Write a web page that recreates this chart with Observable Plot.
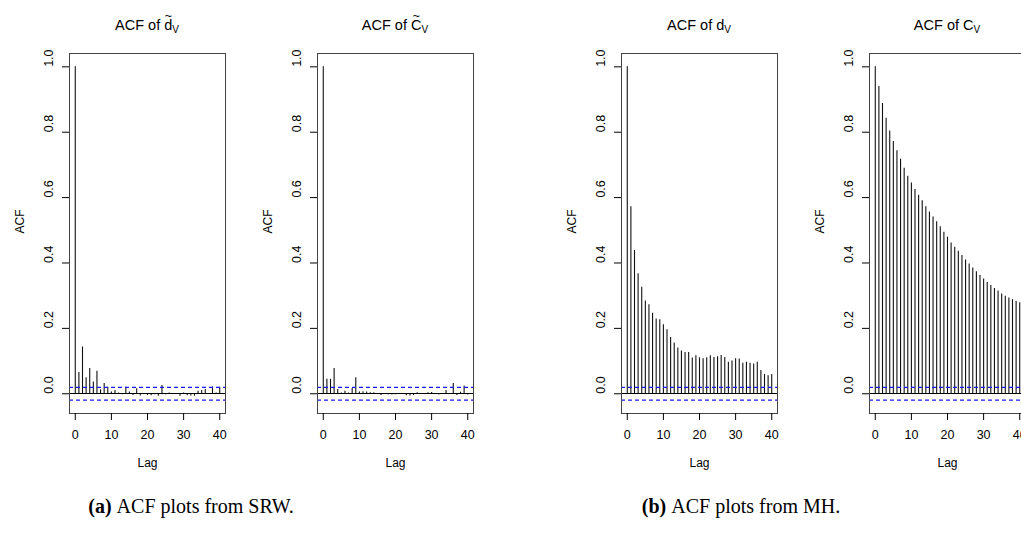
<!DOCTYPE html>
<html><head><meta charset="utf-8">
<script src="https://cdn.jsdelivr.net/npm/d3@7"></script>
<script src="https://cdn.jsdelivr.net/npm/@observablehq/plot@0.6"></script>
<style>
body{margin:0;background:#fff;overflow:hidden;}
#root{position:relative;width:1021px;height:533px;overflow:hidden;font-family:"Liberation Sans",Arial,sans-serif;background:#fff;}
.panel{position:absolute;top:0;}
.title{position:absolute;top:25px;transform:translate(-50%,-50%);font-size:14.5px;white-space:nowrap;color:#000;}
.title sub{font-size:10px;vertical-align:-3px;line-height:0;}
.acc{position:relative;display:inline-block;}
.acc .tl{position:absolute;left:0;right:0;top:-0.62em;text-align:center;font-size:0.85em;}
.caption{position:absolute;top:506px;transform:translate(-50%,-50%);font-family:"Liberation Serif","DejaVu Serif",serif;font-size:20px;white-space:nowrap;color:#000;}
</style></head>
<body><div id="root"></div>
<script>
// ---- data ----
const lags = d3.range(0, 41);
const acfDTilde = [1.0, 0.065, 0.143, 0.049, 0.077, 0.036, 0.069, 0.012, 0.031, 0.02,
  0.005, 0.01, 0.002, -0.003, 0.02, 0.005, -0.005, 0.015, -0.007, 0.001,
  -0.005, -0.006, -0.003, -0.008, 0.025, -0.003, 0.002, 0.001, 0.0, -0.008,
  0.002, -0.006, -0.007, -0.008, 0.008, 0.01, 0.013, 0.001, 0.021, 0.002, 0.02];
const acfCTilde = [1.0, 0.044, 0.044, 0.077, 0.013, 0.002, 0.008, 0.002, 0.016, 0.049,
  0.005, 0.006, 0.005, 0.003, 0.003, 0.0, -0.005, -0.002, -0.003, -0.004,
  -0.003, 0.001, -0.002, -0.006, -0.007, -0.005, 0.003, -0.001, -0.002, 0.003,
  0.004, -0.002, -0.004, 0.0, 0.01, 0.001, 0.031, -0.005, 0.005, 0.024, -0.004];
const acfD = [1.0, 0.572, 0.438, 0.367, 0.326, 0.284, 0.272, 0.246, 0.229, 0.226,
  0.211, 0.196, 0.172, 0.155, 0.14, 0.131, 0.126, 0.126, 0.109, 0.116,
  0.11, 0.107, 0.11, 0.116, 0.111, 0.113, 0.117, 0.111, 0.096, 0.1,
  0.107, 0.106, 0.093, 0.096, 0.093, 0.091, 0.096, 0.071, 0.059, 0.055, 0.059];
const acfC = [1.0, 0.94, 0.888, 0.843, 0.804, 0.772, 0.743, 0.717, 0.69, 0.665,
  0.645, 0.625, 0.607, 0.59, 0.572, 0.556, 0.541, 0.526, 0.511, 0.494,
  0.479, 0.461, 0.448, 0.436, 0.423, 0.409, 0.397, 0.385, 0.373, 0.362,
  0.351, 0.34, 0.331, 0.322, 0.314, 0.305, 0.298, 0.293, 0.288, 0.282, 0.278];
const ci = 0.0196;
const ciBounds = [ci, -ci];
const xTicks = [0, 10, 20, 30, 40];
const yTicks = [0, 0.2, 0.4, 0.6, 0.8, 1.0];
const titles = [
  'ACF of <span class="acc">d<span class="tl">~</span></span><sub>V</sub>',
  'ACF of <span class="acc">C<span class="tl">~</span></span><sub>V</sub>',
  'ACF of d<sub>V</sub>',
  'ACF of C<sub>V</sub>'];
const captions = [["(a)", "ACF plots from SRW."], ["(b)", "ACF plots from MH."]];

// ---- layout ----
const series = [acfDTilde, acfCTilde, acfD, acfC];
const frameLefts = [69, 317, 621, 869];
const captionCenters = [191, 741];
const ML = 69, FW = 156, W = 250, H = 490, MT = 53, MB = 77;
const root = document.getElementById("root");

series.forEach((vals, i) => {
  const data = lags.map((lag, j) => ({lag, acf: vals[j]}));
  const chart = Plot.plot({
    width: W, height: H,
    marginTop: MT, marginBottom: MB, marginLeft: ML, marginRight: W - ML - FW,
    x: {domain: [-1.6, 41.6]},
    y: {domain: [-0.0604, 1.0408]},
    style: {fontFamily: '"Liberation Sans", Arial, sans-serif', fontSize: "12px", background: "transparent", color: "#000"},
    marks: [
      Plot.ruleX(data, {x: "lag", y1: 0, y2: "acf", stroke: "#111", strokeWidth: 1.1}),
      Plot.ruleY([0], {stroke: "#000", shapeRendering: "crispEdges"}),
      Plot.ruleY(ciBounds, {stroke: "#1a1aff", strokeWidth: 1.2, strokeDasharray: "4,3"}),
      Plot.frame({stroke: "#444"}),
      Plot.axisX({ticks: xTicks, tickSize: 7, tickPadding: 10, label: null, fontSize: 12.5}),
      Plot.axisY({ticks: yTicks, tickSize: 7, tickFormat: () => "", label: null}),
      Plot.text(yTicks, {y: d => d, frameAnchor: "left", dx: -21, rotate: -90, text: d => d.toFixed(1), fontSize: 12.5}),
      Plot.text(["ACF"], {frameAnchor: "left", dx: -49, rotate: -90, fontSize: 12}),
      Plot.text(["Lag"], {frameAnchor: "bottom", dy: 53, fontSize: 12})
    ]
  });
  chart.classList.add("panel");
  chart.style.left = (frameLefts[i] - ML) + "px";
  root.appendChild(chart);
  const t = document.createElement("div");
  t.className = "title";
  t.style.left = (frameLefts[i] + FW / 2) + "px";
  t.innerHTML = titles[i];
  root.appendChild(t);
});

captions.forEach(([lab, txt], i) => {
  const c = document.createElement("div");
  c.className = "caption";
  c.style.left = captionCenters[i] + "px";
  c.innerHTML = "<b>" + lab + "</b>&nbsp;" + txt;
  root.appendChild(c);
});
</script>
</body></html>
